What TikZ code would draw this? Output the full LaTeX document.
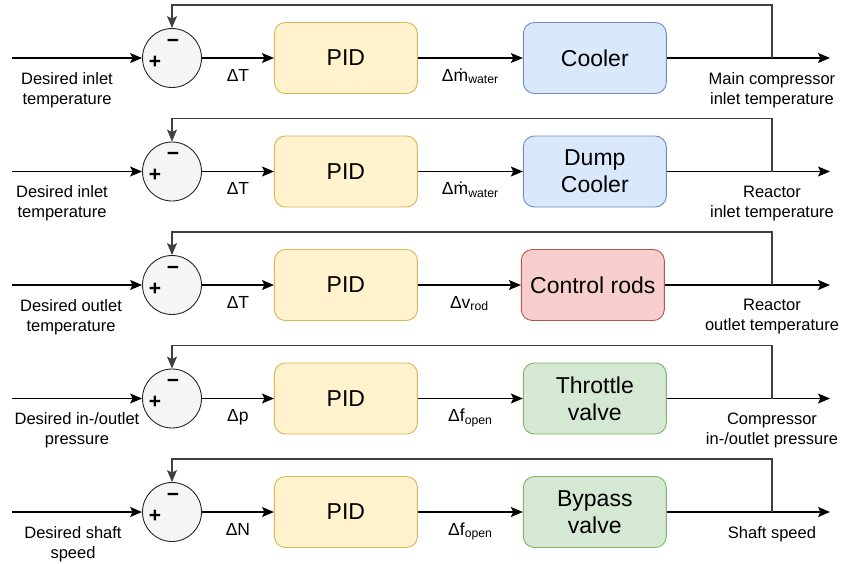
\documentclass[tikz,border=0pt]{standalone}
\usepackage{fontspec}
\setmainfont{Liberation Sans}
\usepackage{tikz}
\usetikzlibrary{arrows.meta,positioning,calc}
\definecolor{pidfill}{HTML}{FFF2CC}
\definecolor{piddraw}{HTML}{D6B656}
\definecolor{bluefill}{HTML}{DAE8FC}
\definecolor{bluedraw}{HTML}{6C8EBF}
\definecolor{redfill}{HTML}{F8CECC}
\definecolor{reddraw}{HTML}{B85450}
\definecolor{greenfill}{HTML}{D5E8D4}
\definecolor{greendraw}{HTML}{82B366}
\newcommand{\mdot}{\.{m}}
\tikzstyle{line} = [draw, line width=1.1pt, -{Stealth[length=12pt,width=10pt,inset=2.5pt]}]
\tikzstyle{feedback} = [line, draw=black!75]
\tikzstyle{block} = [draw, rectangle, rounded corners=11pt, line width=0.9pt, text centered, align=center, minimum width=143pt, minimum height=71pt, font=\fontsize{23}{27}\selectfont]
\tikzstyle{pid} = [block, fill=pidfill, draw=piddraw]
\tikzstyle{cooler} = [block, fill=bluefill, draw=bluedraw]
\tikzstyle{rods} = [block, fill=redfill, draw=reddraw]
\tikzstyle{valve} = [block, fill=greenfill, draw=greendraw]
\tikzstyle{sum} = [draw=black!85, circle, fill=black!4, line width=0.9pt, minimum size=59pt, inner sep=0pt]
\tikzstyle{sign} = [inner sep=0pt, font=\fontsize{21}{21}\selectfont\bfseries]
\tikzstyle{txt} = [align=center, font=\fontsize{16.5}{20}\selectfont, anchor=north]
\tikzstyle{dlabel} = [midway, anchor=base, yshift=-23pt, inner sep=0pt, font=\fontsize{17.5}{20}\selectfont]

\begin{document}
\begin{tikzpicture}[x=1pt, y=-1pt]
    \useasboundingbox (0,0) rectangle (844,563);

    % main compressor inlet loop
    \node[sum] (sum1) at (172,58) {};
    \node[sign] (plus1) at ([shift={(-17pt,-4pt)}]sum1.center) {+};
    \node[sign] (minus1) at ([shift={(1pt,15pt)}]sum1.center) {−};
    \node[pid, right=72pt of sum1] (pid1) {PID};
    \node[cooler, right=105pt of pid1] (plant1) {Cooler};
    \coordinate (in1) at (12,58);
    \coordinate (tap1) at (772,58);
    \coordinate (out1) at (830,58);
    \node[txt] (desired1) at (67,69) {Desired inlet\\temperature};
    \node[txt, below=11pt of tap1] (meas1) {Main compressor\\inlet temperature};
    \path[line] (in1) -- (sum1);
    \path[line] (sum1) -- node[dlabel] {ΔT} (pid1);
    \path[line] (pid1) -- node[dlabel] {Δ\mdot\textsubscript{water}} (plant1);
    \path[line] (plant1) -- (out1);
    \path[feedback] (tap1) -- ++(0,-53) -| (sum1);

    % reactor inlet loop
    \node[sum] (sum2) at (172,171.5) {};
    \node[sign] (plus2) at ([shift={(-17pt,-4pt)}]sum2.center) {+};
    \node[sign] (minus2) at ([shift={(1pt,15pt)}]sum2.center) {−};
    \node[pid, right=72pt of sum2] (pid2) {PID};
    \node[cooler, right=105pt of pid2] (plant2) {Dump\\Cooler};
    \coordinate (in2) at (12,171.5);
    \coordinate (tap2) at (772,171.5);
    \coordinate (out2) at (830,171.5);
    \node[txt] (desired2) at (62,182.5) {Desired inlet\\temperature};
    \node[txt, below=11pt of tap2] (meas2) {Reactor\\inlet temperature};
    \path[line] (in2) -- (sum2);
    \path[line] (sum2) -- node[dlabel] {ΔT} (pid2);
    \path[line] (pid2) -- node[dlabel] {Δ\mdot\textsubscript{water}} (plant2);
    \path[line] (plant2) -- (out2);
    \path[feedback] (tap2) -- ++(0,-53) -| (sum2);

    % reactor outlet loop
    \node[sum] (sum3) at (172,285) {};
    \node[sign] (plus3) at ([shift={(-17pt,-4pt)}]sum3.center) {+};
    \node[sign] (minus3) at ([shift={(1pt,15pt)}]sum3.center) {−};
    \node[pid, right=72pt of sum3] (pid3) {PID};
    \node[rods, right=103pt of pid3] (plant3) {Control rods};
    \coordinate (in3) at (12,285);
    \coordinate (tap3) at (772,285);
    \coordinate (out3) at (830,285);
    \node[txt] (desired3) at (71,296) {Desired outlet\\temperature};
    \node[txt, below=11pt of tap3] (meas3) {Reactor\\outlet temperature};
    \path[line] (in3) -- (sum3);
    \path[line] (sum3) -- node[dlabel] {ΔT} (pid3);
    \path[line] (pid3) -- node[dlabel] {Δv\textsubscript{rod}} (plant3);
    \path[line] (plant3) -- (out3);
    \path[feedback] (tap3) -- ++(0,-53) -| (sum3);

    % compressor pressure loop
    \node[sum] (sum4) at (172,398.5) {};
    \node[sign] (plus4) at ([shift={(-17pt,-4pt)}]sum4.center) {+};
    \node[sign] (minus4) at ([shift={(1pt,15pt)}]sum4.center) {−};
    \node[pid, right=72pt of sum4] (pid4) {PID};
    \node[valve, right=105pt of pid4] (plant4) {Throttle\\valve};
    \coordinate (in4) at (12,398.5);
    \coordinate (tap4) at (772,398.5);
    \coordinate (out4) at (830,398.5);
    \node[txt] (desired4) at (77,409.5) {Desired in-/outlet\\pressure};
    \node[txt, below=11pt of tap4] (meas4) {Compressor\\in-/outlet pressure};
    \path[line] (in4) -- (sum4);
    \path[line] (sum4) -- node[dlabel] {Δp} (pid4);
    \path[line] (pid4) -- node[dlabel] {Δf\textsubscript{open}} (plant4);
    \path[line] (plant4) -- (out4);
    \path[feedback] (tap4) -- ++(0,-53) -| (sum4);

    % shaft speed loop
    \node[sum] (sum5) at (172,512) {};
    \node[sign] (plus5) at ([shift={(-17pt,-4pt)}]sum5.center) {+};
    \node[sign] (minus5) at ([shift={(1pt,15pt)}]sum5.center) {−};
    \node[pid, right=72pt of sum5] (pid5) {PID};
    \node[valve, right=105pt of pid5] (plant5) {Bypass\\valve};
    \coordinate (in5) at (12,512);
    \coordinate (tap5) at (772,512);
    \coordinate (out5) at (830,512);
    \node[txt] (desired5) at (73,523) {Desired shaft\\speed};
    \node[txt, below=11pt of tap5] (meas5) {Shaft speed};
    \path[line] (in5) -- (sum5);
    \path[line] (sum5) -- node[dlabel] {ΔN} (pid5);
    \path[line] (pid5) -- node[dlabel] {Δf\textsubscript{open}} (plant5);
    \path[line] (plant5) -- (out5);
    \path[feedback] (tap5) -- ++(0,-53) -| (sum5);
\end{tikzpicture}
\end{document}
